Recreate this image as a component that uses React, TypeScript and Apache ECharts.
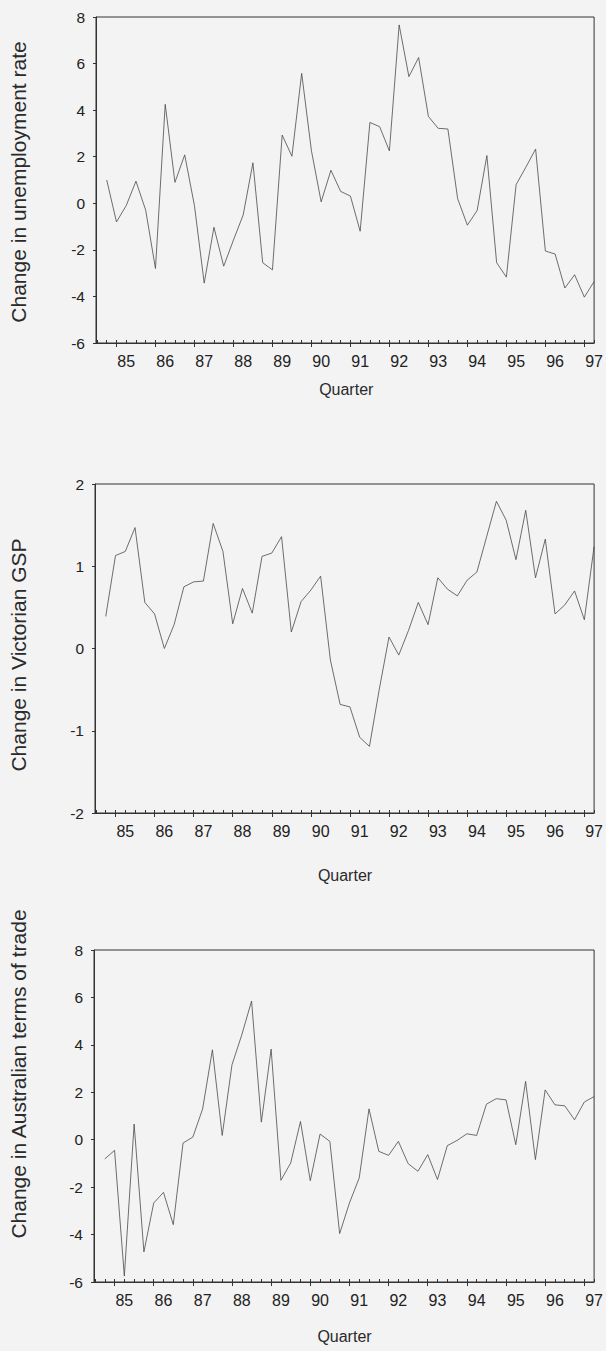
import React, { useEffect, useRef } from "react";
import * as echarts from "echarts";

// Quarterly observations 1984Q3 .. 1997Q1 (51 points)
const yearLabels = ["85", "86", "87", "88", "89", "90", "91", "92", "93", "94", "95", "96", "97"];

const unemployment = [
  1.0, -0.8, -0.1, 0.95, -0.3, -2.8, 4.25, 0.9, 2.08, -0.1, -3.43, -1.03, -2.7, -1.58, -0.5, 1.74,
  -2.55, -2.86, 2.93, 2.02, 5.58, 2.26, 0.06, 1.42, 0.51, 0.31, -1.2, 3.47, 3.29, 2.25, 7.66, 5.44,
  6.26, 3.73, 3.22, 3.19, 0.2, -0.94, -0.31, 2.05, -2.55, -3.17, 0.8, 1.55, 2.33, -2.05, -2.18,
  -3.64, -3.07, -4.03, -3.36,
];

const victorianGSP = [
  0.39, 1.13, 1.18, 1.47, 0.56, 0.42, 0.0, 0.29, 0.75, 0.81, 0.82, 1.52, 1.18, 0.3, 0.73, 0.43,
  1.12, 1.16, 1.36, 0.2, 0.57, 0.71, 0.88, -0.14, -0.68, -0.71, -1.08, -1.19, -0.5, 0.14, -0.08,
  0.22, 0.56, 0.29, 0.86, 0.72, 0.64, 0.83, 0.93, 1.36, 1.79, 1.56, 1.08, 1.68, 0.86, 1.33, 0.42,
  0.53, 0.7, 0.35, 1.24,
];

const termsOfTrade = [
  -0.81, -0.45, -5.75, 0.66, -4.73, -2.67, -2.22, -3.58, -0.14, 0.11, 1.3, 3.79, 0.18, 3.16, 4.42,
  5.85, 0.74, 3.82, -1.71, -0.98, 0.77, -1.73, 0.24, -0.07, -3.96, -2.67, -1.61, 1.3, -0.49, -0.66,
  -0.07, -1.01, -1.33, -0.63, -1.68, -0.25, -0.03, 0.25, 0.18, 1.5, 1.73, 1.68, -0.21, 2.46, -0.84,
  2.1, 1.47, 1.43, 0.84, 1.59, 1.82,
];

const yTitles = [
  "Change in unemployment rate",
  "Change in Victorian GSP",
  "Change in Australian terms of trade",
];
const xTitle = "Quarter";

const FONT = "'Liberation Sans', Arial, Helvetica, sans-serif";
const INK = "#222";
const LINE = "#4a4a4a";
const BG = "#f3f3f3";

export default function App() {
  const ref = useRef<HTMLDivElement>(null);

  useEffect(() => {
    if (!ref.current) return;
    const chart = echarts.init(ref.current, undefined, { renderer: "svg" });

    const panels = [
      { data: unemployment, min: -6, max: 8, interval: 2, left: 96, right: 9.5, top: 17, height: 326, titleY: 182, qY: 389 },
      { data: victorianGSP, min: -2, max: 2, interval: 1, left: 95, right: 11, top: 484, height: 329, titleY: 655, qY: 875 },
      { data: termsOfTrade, min: -6, max: 8, interval: 2, left: 94, right: 11, top: 950, height: 332, titleY: 1074, qY: 1336 },
    ];

    const allTicks: number[] = [];
    for (let i = -1; i <= 50; i++) allTicks.push(i);
    const majorTicks: number[] = [];
    for (let i = 1; i <= 49; i += 4) majorTicks.push(i);
    const labelVals: number[] = yearLabels.map((_, k) => 2 + 4 * k);

    const grid: any[] = [];
    const xAxis: any[] = [];
    const yAxis: any[] = [];
    const series: any[] = [];
    const graphic: any[] = [];

    panels.forEach((p, gi) => {
      grid.push({
        left: p.left,
        right: p.right,
        top: p.top,
        height: p.height,
        show: true,
        borderColor: "#333",
        borderWidth: 1,
        backgroundColor: "transparent",
      });
      // minor ticks + labels
      xAxis.push({
        type: "value",
        gridIndex: gi,
        min: -1.1,
        max: 50,
        position: "bottom",
        axisLine: { show: true, onZero: false, lineStyle: { color: "#333", width: 1 } },
        axisTick: { show: true, inside: true, length: 3, customValues: allTicks, lineStyle: { color: "#333" } },
        axisLabel: {
          show: true,
          customValues: labelVals,
          formatter: (v: number) => yearLabels[Math.round((v - 2) / 4)] ?? "",
          fontSize: 16,
          color: INK,
          fontFamily: FONT,
          margin: 10,
        },
        splitLine: { show: false },
      });
      // major ticks (outward)
      xAxis.push({
        type: "value",
        gridIndex: gi,
        min: -1.1,
        max: 50,
        position: "bottom",
        axisLine: { show: false, onZero: false },
        axisTick: { show: true, inside: false, length: 4, customValues: majorTicks, lineStyle: { color: "#333" } },
        axisLabel: { show: false },
        splitLine: { show: false },
      });
      yAxis.push({
        type: "value",
        gridIndex: gi,
        min: p.min,
        max: p.max,
        interval: p.interval,
        axisLine: { show: true, onZero: false, lineStyle: { color: "#333", width: 1 } },
        axisTick: { show: true, inside: false, length: 3, lineStyle: { color: "#333" } },
        axisLabel: { fontSize: 15.5, color: INK, fontFamily: FONT, margin: 11 },
        splitLine: { show: false },
      });
      series.push({
        type: "line",
        xAxisIndex: gi * 2,
        yAxisIndex: gi,
        data: p.data.map((v, i) => [i, v]),
        showSymbol: false,
        symbol: "none",
        lineStyle: { color: LINE, width: 0.8 },
      });
      graphic.push({
        type: "text",
        x: 18,
        y: p.titleY,
        rotation: Math.PI / 2,
        style: {
          text: yTitles[gi],
          fontSize: 21,
          fontFamily: FONT,
          fill: "#2a2a2a",
          textAlign: "center",
          textVerticalAlign: "middle",
        },
      });
      graphic.push({
        type: "text",
        x: p.left + (606 - p.left - p.right) / 2,
        y: p.qY,
        style: {
          text: xTitle,
          fontSize: 16,
          fontFamily: FONT,
          fill: "#2a2a2a",
          textAlign: "center",
          textVerticalAlign: "middle",
        },
      });
    });

    chart.setOption({
      animation: false,
      backgroundColor: BG,
      grid,
      xAxis,
      yAxis,
      series,
      graphic,
    });

    return () => chart.dispose();
  }, []);

  return (
    <div
      ref={ref}
      style={{ position: "absolute", left: 0, top: 0, width: 606, height: 1351 }}
    />
  );
}
